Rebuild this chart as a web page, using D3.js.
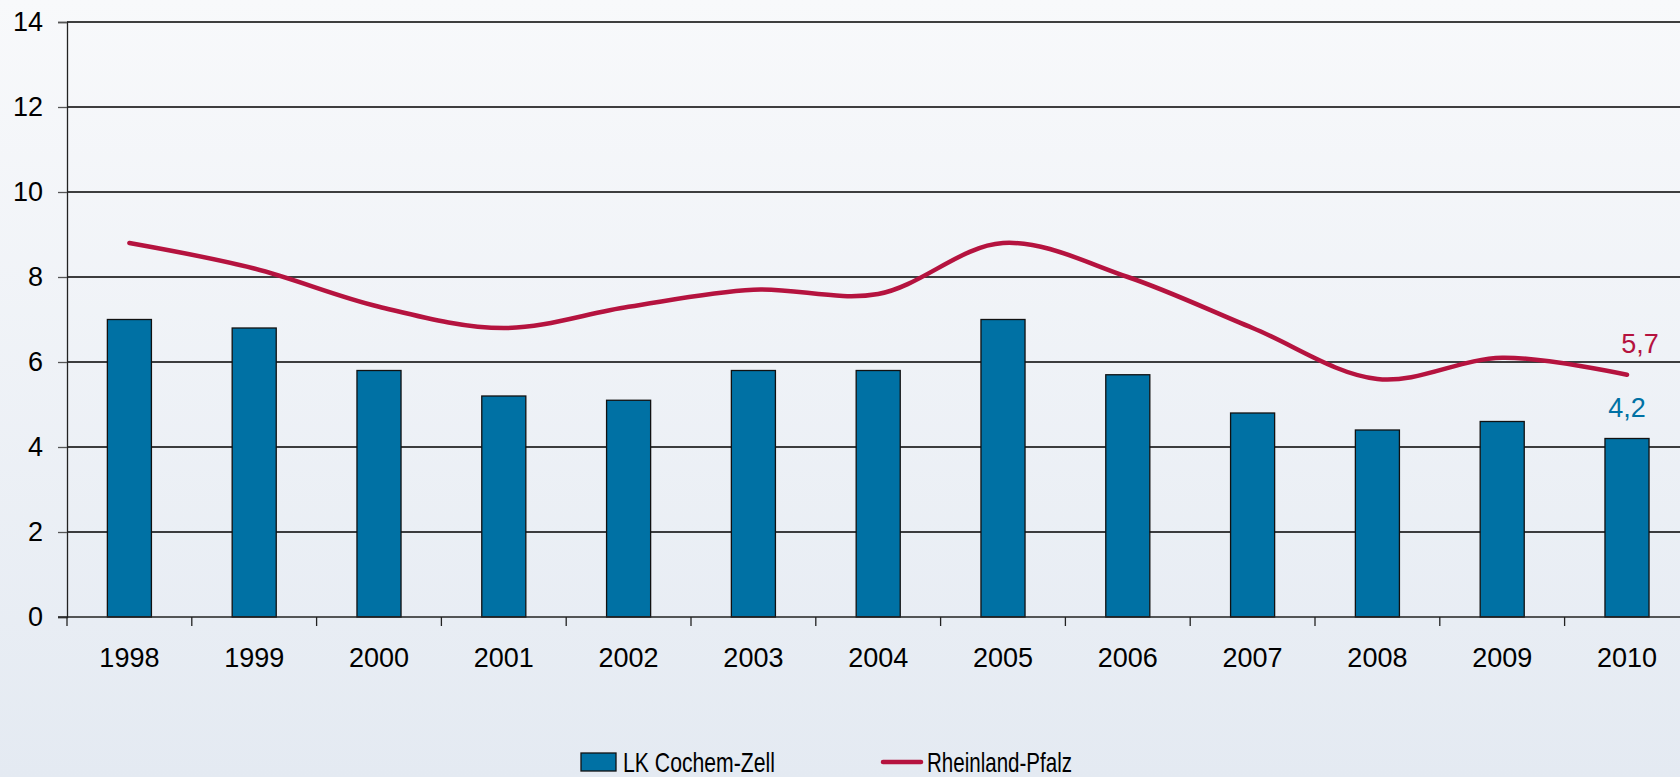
<!DOCTYPE html>
<html>
<head>
<meta charset="utf-8">
<script src="https://cdn.jsdelivr.net/npm/d3@7"></script>
<style>
  html, body { margin: 0; padding: 0; overflow: hidden; }
  svg { display: block; font-family: "Liberation Sans", Arial, sans-serif; }
</style>
</head>
<body>
<svg id="chart" width="1680" height="777"></svg>
<script>
// data
var years = ["1998","1999","2000","2001","2002","2003","2004","2005","2006","2007","2008","2009","2010"];
var cochem = [7.0, 6.8, 5.8, 5.2, 5.1, 5.8, 5.8, 7.0, 5.7, 4.8, 4.4, 4.6, 4.2];   // LK Cochem-Zell (bars)
var rlp = [8.8, 8.2, 7.3, 6.8, 7.3, 7.7, 7.6, 8.8, 8.0, 6.8, 5.6, 6.1, 5.7];      // Rheinland-Pfalz (line)
var yTicks = [0, 2, 4, 6, 8, 10, 12, 14];
var seriesNames = ["LK Cochem-Zell", "Rheinland-Pfalz"];

var barColor = "#0071a4", lineColor = "#b5133f";

var svg = d3.select("#chart");

// background gradient
var grad = svg.append("defs").append("linearGradient")
    .attr("id", "bg").attr("x1", 0).attr("y1", 0).attr("x2", 0).attr("y2", 1);
grad.append("stop").attr("offset", "0%").attr("stop-color", "#f8f9fb");
grad.append("stop").attr("offset", "100%").attr("stop-color", "#e4eaf2");
svg.append("rect").attr("width", 1680).attr("height", 777).attr("fill", "url(#bg)");

var plotLeft = 67, plotTop = 22, plotBottom = 617;
var band = 124.8;

var x = d3.scaleBand().domain(years).range([plotLeft, plotLeft + band * years.length]).paddingInner(0.647).paddingOuter(0.3235);
var y = d3.scaleLinear().domain([0, 14]).range([plotBottom, plotTop]);

// gridlines
svg.append("g").selectAll("line")
    .data(yTicks.slice(1))
    .enter().append("line")
    .attr("x1", plotLeft).attr("x2", 1680)
    .attr("y1", function(d) { return y(d); })
    .attr("y2", function(d) { return y(d); })
    .attr("stroke", "#000").attr("stroke-width", 1.3);

// y axis
var yAxis = svg.append("g")
    .attr("transform", "translate(" + plotLeft + ",0)")
    .call(d3.axisLeft(y).tickValues(yTicks).tickSize(9).tickPadding(15).tickFormat(d3.format("d")));
yAxis.select(".domain").attr("stroke", "#222").attr("stroke-width", 1.3);
yAxis.selectAll(".tick line").attr("stroke", "#555").attr("stroke-width", 1.3);
yAxis.selectAll("text").attr("font-size", 27).attr("fill", "#000").attr("font-family", "Liberation Sans, Arial, sans-serif");

// bars
svg.append("g").selectAll("rect")
    .data(cochem)
    .enter().append("rect")
    .attr("x", function(d, i) { return x(years[i]); })
    .attr("y", function(d) { return y(d); })
    .attr("width", x.bandwidth())
    .attr("height", function(d) { return y(0) - y(d); })
    .attr("fill", barColor)
    .attr("stroke", "#111").attr("stroke-width", 1.3);

// x axis
var xAxis = svg.append("g")
    .attr("transform", "translate(0," + plotBottom + ")")
    .call(d3.axisBottom(x).tickSize(0).tickPadding(31));
xAxis.select(".domain").remove();
xAxis.selectAll("text").attr("font-size", 27).attr("fill", "#000").attr("font-family", "Liberation Sans, Arial, sans-serif");
svg.append("line")
    .attr("x1", plotLeft - 9).attr("x2", 1680)
    .attr("y1", plotBottom).attr("y2", plotBottom)
    .attr("stroke", "#222").attr("stroke-width", 1.5);
// tick marks between categories
svg.append("g").selectAll("line")
    .data(d3.range(years.length + 1))
    .enter().append("line")
    .attr("x1", function(i) { return plotLeft + i * band; })
    .attr("x2", function(i) { return plotLeft + i * band; })
    .attr("y1", plotBottom).attr("y2", plotBottom + 9)
    .attr("stroke", "#222").attr("stroke-width", 1.3);

// smoothed line
var line = d3.line()
    .x(function(d, i) { return x(years[i]) + x.bandwidth() / 2; })
    .y(function(d) { return y(d); })
    .curve(d3.curveCatmullRom.alpha(0.5));
svg.append("path")
    .datum(rlp)
    .attr("d", line)
    .attr("fill", "none")
    .attr("stroke", lineColor)
    .attr("stroke-width", 4.5)
    .attr("stroke-linecap", "round");

// value labels for last year
var last = years.length - 1;
function fmt(v) { return d3.format(".1f")(v).replace(".", ","); }
svg.append("text")
    .attr("x", x(years[last]) + x.bandwidth() / 2 + 13)
    .attr("y", y(rlp[last]) - 22)
    .attr("text-anchor", "middle")
    .attr("font-size", 27).attr("fill", lineColor)
    .text(fmt(rlp[last]));
svg.append("text")
    .attr("x", x(years[last]) + x.bandwidth() / 2)
    .attr("y", y(cochem[last]) - 22)
    .attr("text-anchor", "middle")
    .attr("font-size", 27).attr("fill", barColor)
    .text(fmt(cochem[last]));

// legend
var lg = svg.append("g");
lg.append("rect")
    .attr("x", 581).attr("y", 753).attr("width", 35).attr("height", 18)
    .attr("fill", barColor).attr("stroke", "#111").attr("stroke-width", 1.3);
lg.append("text")
    .attr("x", 623).attr("y", 772)
    .attr("font-size", 28).attr("textLength", 152).attr("lengthAdjust", "spacingAndGlyphs")
    .text(seriesNames[0]);
lg.append("line")
    .attr("x1", 883).attr("x2", 921).attr("y1", 762).attr("y2", 762)
    .attr("stroke", lineColor).attr("stroke-width", 4.5).attr("stroke-linecap", "round");
lg.append("text")
    .attr("x", 927).attr("y", 772)
    .attr("font-size", 28).attr("textLength", 145).attr("lengthAdjust", "spacingAndGlyphs")
    .text(seriesNames[1]);
</script>
</body>
</html>
